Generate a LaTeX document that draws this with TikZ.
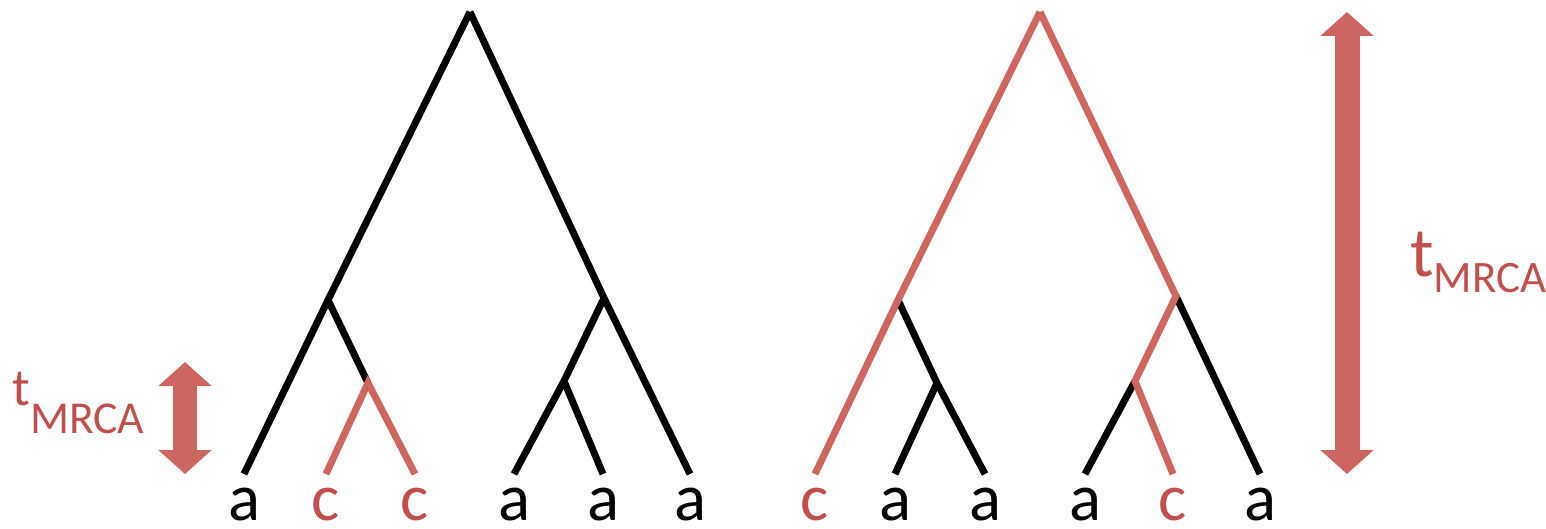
\documentclass[tikz,border=0pt]{standalone}
\usepackage{fontspec}
\setmainfont{Carlito}
\usetikzlibrary{arrows.meta,positioning}
\definecolor{lred}{RGB}{205,102,96}
\definecolor{cred}{RGB}{192,80,77}
\tikzset{
  br/.style={line width=0.14cm, draw=black},
  rbr/.style={br, draw=lred},
  leaf/.style={anchor=base, inner sep=0pt, font=\fontsize{38}{40}\selectfont},
  tlab/.style={anchor=base west, inner sep=0pt, text=cred},
  tarr/.style={draw=lred, line width=0.5cm,
    {Triangle[length=0.48cm,width=1.04cm]}-{Triangle[length=0.48cm,width=1.04cm]}}
}
\begin{document}
\begin{tikzpicture}[x=0.02cm, y=-0.02cm]
    \useasboundingbox (0,0) rectangle (1546,528);

    % === Left tree ===
    \coordinate (rootL) at (470,12);
    \coordinate (nL1) at (328,300);
    \coordinate (nL2) at (368,383);
    \coordinate (nL3) at (604,298);
    \coordinate (nL4) at (564,381);
    \foreach \n/\x in {1/244, 2/326, 3/415, 4/514, 5/603, 6/690} {
        \coordinate (L\n) at (\x,474);
    }
    \draw[br] (rootL) -- (nL1) -- (L1);
    \draw[br] (nL1) -- (nL2);
    \draw[br] (rootL) -- (nL3) -- (L6);
    \draw[br] (nL3) -- (nL4) -- (L4);
    \draw[br] (nL4) -- (L5);
    \draw[rbr] (L2) -- (nL2) -- (L3);

    % leaf labels
    \foreach \n/\x/\s/\c in {1/244/a/black, 2/326/c/cred, 3/415/c/cred, 4/514/a/black, 5/603/a/black, 6/690/a/black} {
        \node[leaf, text=\c] (labL\n) at (\x,520) {\s};
    }

    % === Right tree ===
    \coordinate (rootR) at (1040,12);
    \coordinate (nR1) at (898,300);
    \coordinate (nR2) at (937,383);
    \coordinate (nR3) at (1176,296);
    \coordinate (nR4) at (1135,381);
    \foreach \n/\x in {1/815, 2/895, 3/985, 4/1085, 5/1173, 6/1260} {
        \coordinate (R\n) at (\x,474);
    }
    \draw[br] (nR1) -- (nR2) -- (R3);
    \draw[br] (nR2) -- (R2);
    \draw[br] (nR3) -- (R6);
    \draw[br] (nR4) -- (R4);
    \draw[rbr] (R1) -- (nR1) -- (rootR);
    \draw[rbr] (rootR) -- (nR3) -- (nR4) -- (R5);

    % leaf labels
    \foreach \n/\x/\s/\c in {1/815/c/cred, 2/895/a/black, 3/985/a/black, 4/1085/a/black, 5/1173/c/cred, 6/1260/a/black} {
        \node[leaf, text=\c] (labR\n) at (\x,520) {\s};
    }

    % === time arrows ===
    \coordinate (aL1) at (185,362);
    \coordinate (aL2) at (185,474);
    \draw[tarr] (aL1) -- (aL2);
    \node[tlab, font=\fontsize{30}{32}\selectfont] (tL) at (12,405)
        {t\raisebox{-0.56cm}{\fontsize{26}{28}\selectfont MRCA}};

    \coordinate (aR1) at (1347,12);
    \coordinate (aR2) at (1347,474);
    \draw[tarr] (aR1) -- (aR2);
    \node[tlab, font=\fontsize{40}{42}\selectfont] (tR) at (1410,276)
        {t\raisebox{-0.32cm}{\fontsize{25.6}{27}\selectfont MRCA}};
\end{tikzpicture}
\end{document}
